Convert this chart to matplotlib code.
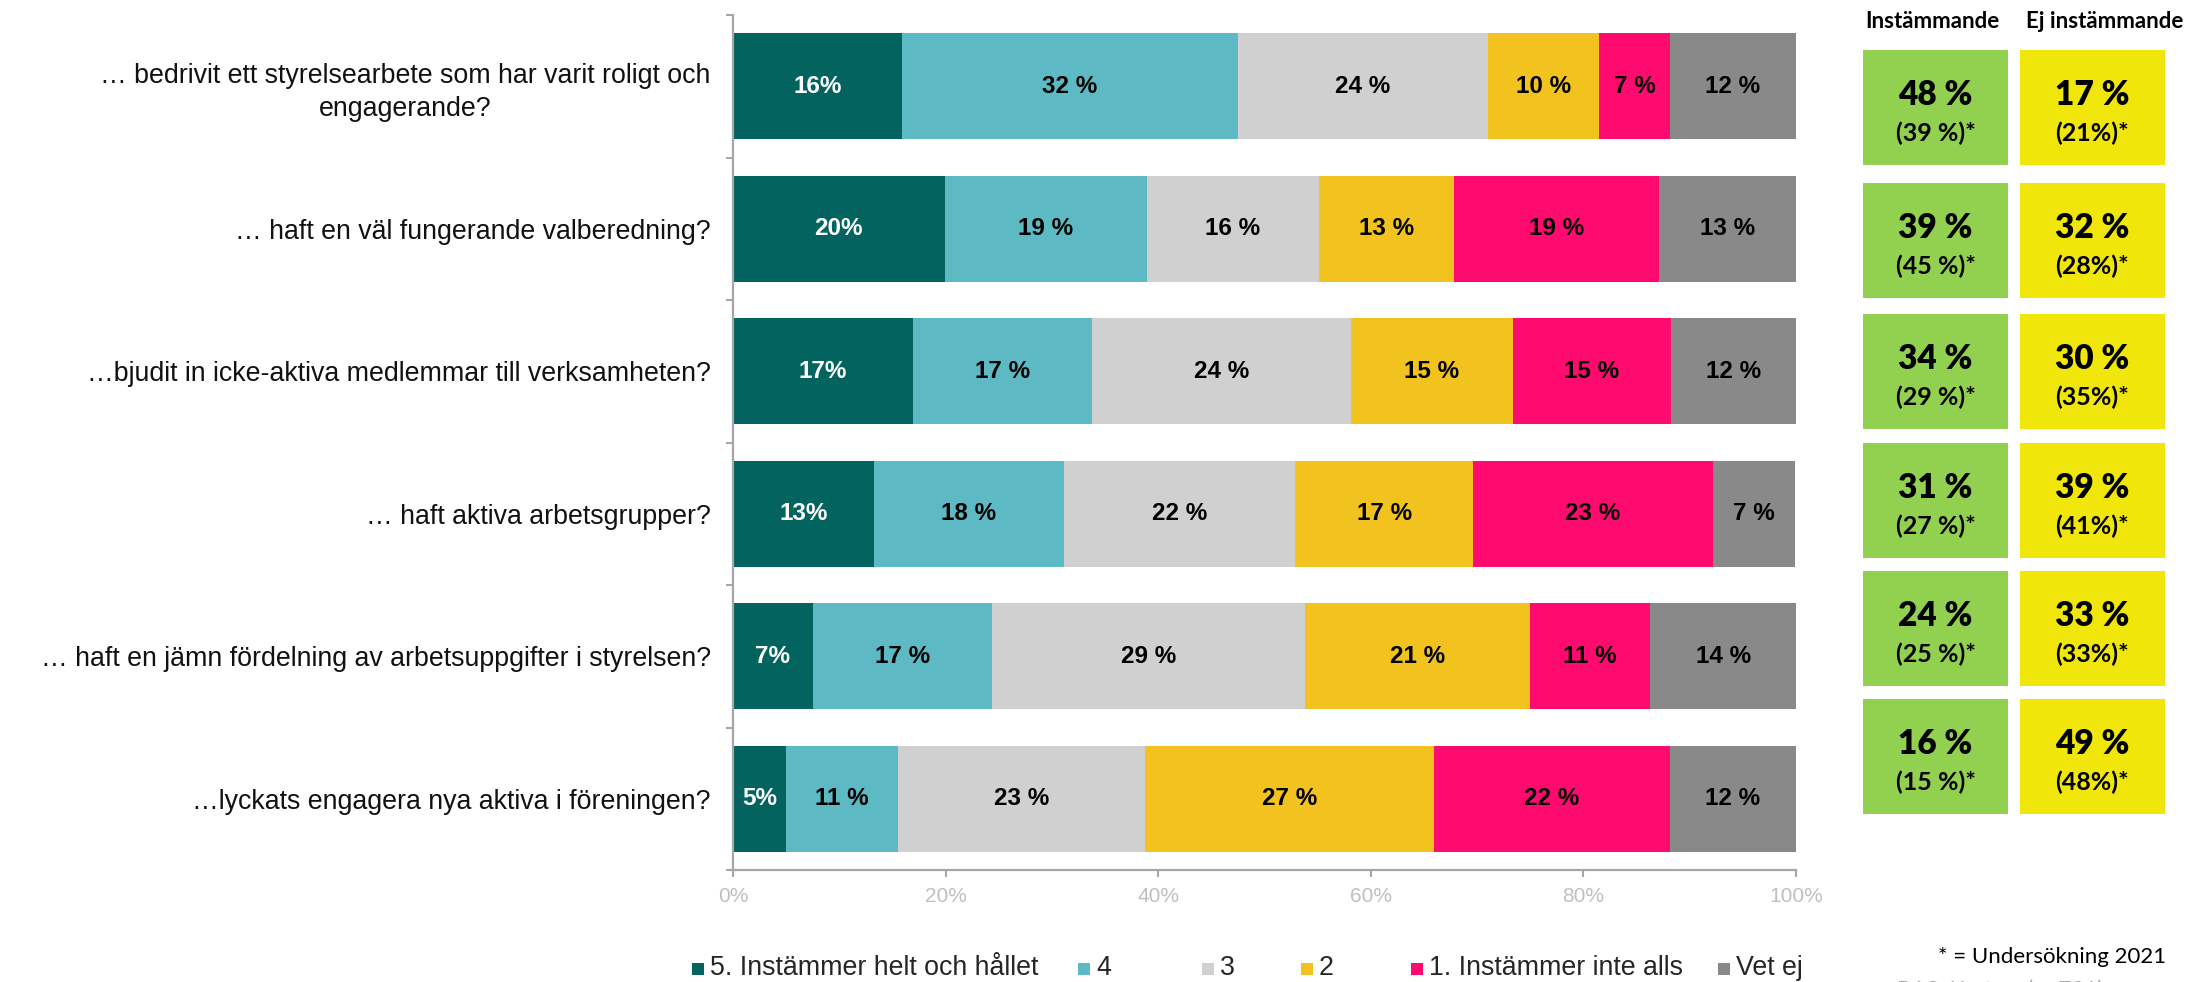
import numpy as np
import matplotlib
matplotlib.use("Agg")
import matplotlib.pyplot as plt
from matplotlib.patches import Rectangle

# frågor (uppifrån och ned)
questions = [
    "… bedrivit ett styrelsearbete som har varit roligt och\nengagerande?",
    "… haft en väl fungerande valberedning?",
    "…bjudit in icke-aktiva medlemmar till verksamheten?",
    "… haft aktiva arbetsgrupper?",
    "… haft en jämn fördelning av arbetsuppgifter i styrelsen?",
    "…lyckats engagera nya aktiva i föreningen?",
]
series_names = ["5. Instämmer helt och hållet", "4", "3", "2",
                "1. Instämmer inte alls", "Vet ej"]
series_colors = ["#03635F", "#5DBAC5", "#D0D0D0", "#F2C31F", "#FF0A6E", "#898989"]

# andelar per fråga (bredd i procent)
share_5 = [15.9, 19.9, 16.9, 13.3, 7.5, 5.0]
share_4 = [31.6, 19.0, 16.9, 17.8, 16.9, 10.5]
share_3 = [23.5, 16.2, 24.3, 21.8, 29.4, 23.3]
share_2 = [10.5, 12.7, 15.3, 16.7, 21.2, 27.1]
share_1 = [6.6, 19.3, 14.8, 22.6, 11.3, 22.2]
share_vet = [11.9, 12.9, 11.9, 7.7, 13.7, 11.9]

# etiketter som de står i stapeln
label_5 = [16, 20, 17, 13, 7, 5]
label_4 = [32, 19, 17, 18, 17, 11]
label_3 = [24, 16, 24, 22, 29, 23]
label_2 = [10, 13, 15, 17, 21, 27]
label_1 = [7, 19, 15, 23, 11, 22]
label_vet = [12, 13, 12, 7, 14, 12]

# sammanfattning till höger
agree_now = [48, 39, 34, 31, 24, 16]
agree_2021 = [39, 45, 29, 27, 25, 15]
disagree_now = [17, 32, 30, 39, 33, 49]
disagree_2021 = [21, 28, 35, 41, 33, 48]

W, H = 2187, 982
ARIAL = ["Liberation Sans", "DejaVu Sans"]
CAL = ["Lato", "DejaVu Sans"]

fig = plt.figure(figsize=(W / 100, H / 100), dpi=100)
ax = fig.add_axes([733 / W, 1 - 870 / H, (1796 - 733) / W, (870 - 15) / H])

shares = [share_5, share_4, share_3, share_2, share_1, share_vet]
labels = [label_5, label_4, label_3, label_2, label_1, label_vet]
y = np.arange(len(questions))
left = np.zeros(len(questions))
for i, (vals, labs) in enumerate(zip(shares, labels)):
    vals = np.array(vals)
    ax.barh(y, vals, left=left, height=0.745, color=series_colors[i],
            edgecolor="none")
    for yy, l, v, lab in zip(y, left, vals, labs):
        txt = f"{lab}%" if i == 0 else f"{lab} %"
        ax.text(l + v / 2, yy, txt, ha="center", va="center",
                fontsize=17.5, fontweight="bold", family=ARIAL,
                color="white" if i == 0 else "black")
    left += vals

ax.set_xlim(0, 100)
ax.set_ylim(len(questions) - 0.5, -0.5)
ax.set_xticks(np.arange(0, 101, 20))
ax.set_xticklabels([f"{t}%" for t in range(0, 101, 20)], family=ARIAL,
                   fontsize=15, color="#BFBFBF")
ax.set_yticks(y)
ax.set_yticklabels(questions, family=ARIAL, fontsize=19.3, ha="right",
                   multialignment="center", linespacing=1.35, color="#111111")
ax.set_yticks(np.arange(-0.5, len(questions)), minor=True)
ax.tick_params(axis="y", which="major", length=0, pad=16)
ax.tick_params(axis="y", which="minor", length=5, width=1.5, color="#A6A6A6")
ax.tick_params(axis="x", length=5, width=1.5, color="#A6A6A6", pad=7)
for s in ["top", "right"]:
    ax.spines[s].set_visible(False)
for s in ["left", "bottom"]:
    ax.spines[s].set_color("#A6A6A6")
    ax.spines[s].set_linewidth(1.6)

# rutor till höger
box_tops = [50, 183, 314, 443, 571, 699]
for k, top in enumerate(box_tops):
    for x0, col, now, prev, sp in [(1863, "#92D050", agree_now, agree_2021, " "),
                                   (2020, "#F0E60A", disagree_now, disagree_2021, "")]:
        fig.add_artist(Rectangle((x0 / W, 1 - (top + 115) / H), 145 / W, 115 / H,
                                 transform=fig.transFigure, color=col, lw=0))
        cx = (x0 + 72.5) / W
        fig.text(cx, 1 - (top + 45) / H, f"{now[k]} %", ha="center", va="center",
                 fontsize=24, fontweight="heavy", family=CAL)
        fig.text(cx, 1 - (top + 83) / H, f"({prev[k]}{sp}%)*", ha="center",
                 va="center", fontsize=18, fontweight="bold", family=CAL)

fig.text(1932 / W, 1 - 22 / H, "Instämmande", ha="center", va="center",
         fontsize=16, fontweight="bold", family=CAL)
fig.text(2105 / W, 1 - 22 / H, "Ej instämmande", ha="center", va="center",
         fontsize=16, fontweight="bold", family=CAL)

# förklaring
legend_x = [692, 1078, 1202, 1301, 1411, 1718]
for lx, name, col in zip(legend_x, series_names, series_colors):
    fig.add_artist(Rectangle((lx / W, 1 - 975 / H), 12 / W, 12 / H,
                             transform=fig.transFigure, color=col, lw=0))
    fig.text((lx + 18) / W, 1 - 968 / H, name, ha="left", va="center",
             fontsize=19.3, family=ARIAL, color="#262626")

fig.text(2052 / W, 1 - 957 / H, "* = Undersökning 2021", ha="center",
         va="center", fontsize=16, family=CAL)
fig.text(2000 / W, 1 - 990 / H, "BAS: Kretsar (n=731)", ha="center",
         va="center", fontsize=16, family=CAL, color="#A6A6A6")

fig.savefig("out.png", dpi=100)
